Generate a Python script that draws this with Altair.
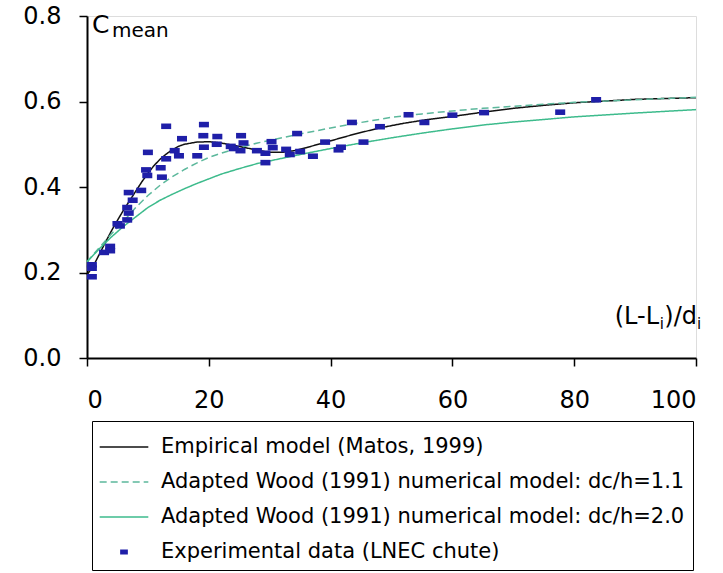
import altair as alt
import pandas as pd

EMP = "Empirical model (Matos, 1999)"
W11 = "Adapted Wood (1991) numerical model: dc/h=1.1"
W20 = "Adapted Wood (1991) numerical model: dc/h=2.0"
EXP = "Experimental data (LNEC chute)"
series_order = [EMP, W11, W20, EXP]

# Empirical model (Matos, 1999)
emp_x = [0, 1, 2, 3, 4, 5, 6, 7, 8, 9, 10, 11, 12, 13, 14, 15, 16, 18, 20, 22, 25, 28,
         30, 32, 34, 36, 38, 40, 44, 48, 52, 56, 60, 65, 70, 75, 80, 85, 90, 95, 100]
emp_y = [0.195, 0.214, 0.242, 0.270, 0.297, 0.322, 0.346, 0.368, 0.390, 0.412, 0.432,
         0.450, 0.465, 0.477, 0.487, 0.495, 0.500, 0.505, 0.506, 0.503, 0.495, 0.486,
         0.481, 0.481, 0.485, 0.492, 0.500, 0.508, 0.524, 0.538, 0.549, 0.558, 0.565,
         0.575, 0.584, 0.591, 0.597, 0.601, 0.605, 0.607, 0.609]

# Adapted Wood (1991) model, dc/h = 1.1
w11_x = [0, 2, 4, 6, 8, 10, 12, 14, 16, 18, 20, 22, 25, 28, 30, 35, 40, 45, 50, 55,
         60, 65, 70, 80, 90, 100]
w11_y = [0.225, 0.258, 0.290, 0.320, 0.352, 0.380, 0.404, 0.424, 0.441, 0.456, 0.469,
         0.479, 0.492, 0.503, 0.509, 0.524, 0.538, 0.551, 0.563, 0.571, 0.578, 0.584,
         0.589, 0.598, 0.604, 0.610]

# Adapted Wood (1991) model, dc/h = 2.0
w20_x = [0, 2, 4, 6, 8, 10, 12, 14, 16, 18, 20, 22, 25, 28, 30, 35, 40, 45, 50, 55,
         60, 65, 70, 80, 90, 100]
w20_y = [0.225, 0.255, 0.283, 0.308, 0.330, 0.352, 0.369, 0.383, 0.396, 0.408, 0.419,
         0.430, 0.443, 0.455, 0.461, 0.476, 0.490, 0.503, 0.515, 0.526, 0.536, 0.545,
         0.552, 0.564, 0.573, 0.581]

# Experimental data (LNEC chute)
exp_x = [0.8, 0.8, 0.8, 2.8, 3.8, 3.8, 5.0, 5.4, 6.6, 6.85, 6.6, 7.5, 6.85, 8.9,
         9.7, 9.9, 10.0, 12.1, 12.3, 13.0, 13.0, 14.4, 15.1, 15.6, 18.1, 19.2, 19.1,
         19.2, 21.4, 21.3, 23.6, 24.1, 25.3, 25.7, 25.2, 27.9, 29.3, 30.3, 30.5, 29.3,
         32.7, 33.3, 34.5, 35.0, 37.1, 39.1, 41.3, 41.7, 43.5, 45.4, 48.1, 52.8, 55.4,
         60.0, 65.2, 77.7, 83.6]
exp_y = [0.218, 0.210, 0.190, 0.247, 0.261, 0.251, 0.314, 0.309, 0.323, 0.339, 0.352,
         0.369, 0.387, 0.392, 0.440, 0.427, 0.481, 0.445, 0.423, 0.542, 0.466, 0.485,
         0.473, 0.513, 0.473, 0.546, 0.520, 0.493, 0.518, 0.500, 0.495, 0.490, 0.520,
         0.503, 0.485, 0.485, 0.479, 0.506, 0.492, 0.457, 0.488, 0.476, 0.525, 0.483,
         0.472, 0.505, 0.487, 0.493, 0.551, 0.505, 0.541, 0.569, 0.551, 0.568, 0.574,
         0.575, 0.604]

curves = pd.concat([
    pd.DataFrame({"x": emp_x, "y": emp_y, "series": EMP}),
    pd.DataFrame({"x": w11_x, "y": w11_y, "series": W11}),
    pd.DataFrame({"x": w20_x, "y": w20_y, "series": W20}),
], ignore_index=True)
points = pd.DataFrame({"x": exp_x, "y": exp_y, "series": EXP})

FONT = "DejaVu Sans"
# legend/marker glyphs in the unit box: long horizontal stroke, small bar
LINE = "M-1.41,0H1.41"
RECT = "M-0.18,-0.1H0.18V0.1H-0.18Z"

legend = alt.Legend(
    title=None, orient="none", legendX=5, legendY=405,
    labelFont=FONT, labelFontSize=21, labelColor="black", labelLimit=900,
    labelOffset=19, symbolOffset=6, symbolSize=1190, symbolStrokeWidth=1.5,
    strokeColor="black", padding=8, rowPadding=7,
)

color = alt.Color("series:N", legend=legend, scale=alt.Scale(
    domain=series_order, range=["#111111", "#5cb89c", "#3dbb8c", "#1f1fa8"]))
dash = alt.StrokeDash("series:N", legend=legend, scale=alt.Scale(
    domain=series_order, range=[[1, 0], [7, 4], [1, 0], [1, 0]]))
shape = alt.Shape("series:N", legend=legend, scale=alt.Scale(
    domain=series_order, range=[LINE, LINE, LINE, RECT]))

axis_style = dict(
    title=None, grid=False, labelFont=FONT, labelFontSize=24, labelColor="black",
    domainColor="black", domainWidth=2, tickColor="black", tickWidth=1.5,
    tickSize=8,
)
x_enc = alt.X("x:Q", scale=alt.Scale(domain=[0, 100], nice=False),
              axis=alt.Axis(values=[0, 20, 40, 60, 80, 100], labelPadding=22,
                            **axis_style))
y_enc = alt.Y("y:Q", scale=alt.Scale(domain=[0, 0.8], nice=False),
              axis=alt.Axis(values=[0, 0.2, 0.4, 0.6, 0.8], format=".1f",
                            labelPadding=18, **axis_style))

lines = alt.Chart(curves).mark_line(strokeWidth=1.5).encode(
    x=x_enc, y=y_enc, color=color, strokeDash=dash)

pts = alt.Chart(points).mark_point(filled=True, size=3100, opacity=1).encode(
    x=x_enc, y=y_enc, color=color, shape=shape)

# axis captions: C_mean and (L-L_i)/d_i
cap = pd.DataFrame({"x": [0], "y": [0.8]})
c_main = alt.Chart(cap).mark_text(font=FONT, fontSize=25, align="left",
                                  baseline="alphabetic", dx=5, dy=17, color="black").encode(
    x="x:Q", y="y:Q", text=alt.value("C"))
c_sub = alt.Chart(cap).mark_text(font=FONT, fontSize=20, align="left",
                                 baseline="alphabetic", dx=25, dy=21, color="black").encode(
    x="x:Q", y="y:Q", text=alt.value("mean"))

lab = pd.DataFrame({"x": [100], "y": [0.08]})
l1 = alt.Chart(lab).mark_text(font=FONT, fontSize=24, align="right",
                              baseline="alphabetic", dx=-37, color="black").encode(
    x="x:Q", y="y:Q", text=alt.value("(L-L"))
l2 = alt.Chart(lab).mark_text(font=FONT, fontSize=15, align="right",
                              baseline="alphabetic", dx=-32, dy=5, color="black").encode(
    x="x:Q", y="y:Q", text=alt.value("i"))
l3 = alt.Chart(lab).mark_text(font=FONT, fontSize=24, align="right",
                              baseline="alphabetic", dx=1, color="black").encode(
    x="x:Q", y="y:Q", text=alt.value(")/d"))
l4 = alt.Chart(lab).mark_text(font=FONT, fontSize=15, align="left",
                              baseline="alphabetic", dx=1, dy=5, color="black").encode(
    x="x:Q", y="y:Q", text=alt.value("i"))

chart = alt.layer(lines, pts, c_main, c_sub, l1, l2, l3, l4).properties(
    width=609, height=342,
    padding={"left": 87, "top": 16, "right": 27, "bottom": 215},
    autosize=alt.AutoSizeParams(type="none"),
).configure_view(stroke=None).configure(background="white")

chart.save("out.html", embed_options={"renderer": "svg", "actions": False})
